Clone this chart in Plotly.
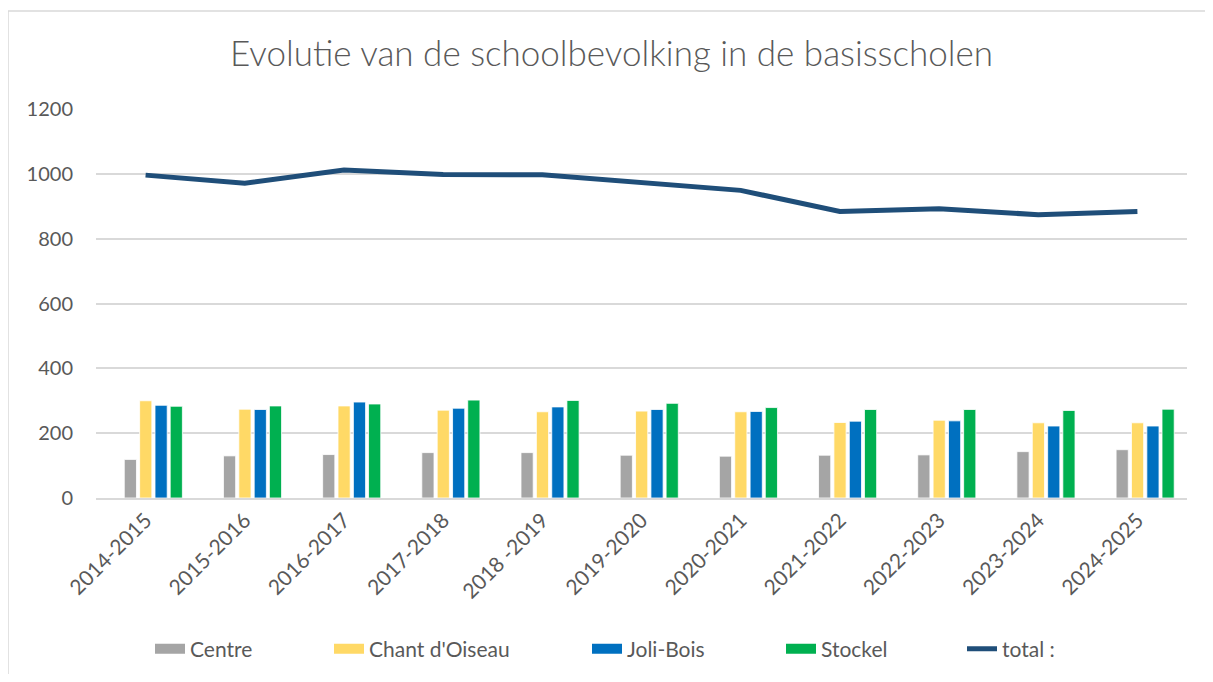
import plotly.graph_objects as go

years = ["2014-2015", "2015-2016", "2016-2017", "2017-2018", "2018 -2019", "2019-2020",
         "2020-2021", "2021-2022", "2022-2023", "2023-2024", "2024-2025"]
centre = [119, 130, 134, 140, 140, 132, 129, 132, 133, 143, 149]
chant = [300, 274, 284, 271, 266, 268, 266, 233, 240, 232, 232]
joli = [286, 273, 296, 277, 281, 273, 267, 237, 238, 222, 222]
stockel = [283, 284, 290, 302, 301, 292, 279, 273, 273, 270, 274]
total = [996, 971, 1012, 998, 997, 974, 949, 884, 892, 874, 884]

series_names = ["Centre", "Chant d'Oiseau", "Joli-Bois", "Stockel"]
series_vals = [centre, chant, joli, stockel]
colors = ["#A5A5A5", "#FFD966", "#0070C0", "#00B050"]
offsets = [-0.215, -0.060, 0.095, 0.248]

FONT = "Lato"
TXT = "#595959"
W, H = 1197, 666          # page body has an 8px margin
L, R, T, B = 88, 18, 101, 176
PW, PH = W - L - R, H - T - B

legend_ids = ["legend", "legend2", "legend3", "legend4", "legend5"]
legend_x = [142, 321, 579, 773, 954]   # left edge of each legend entry (px)

fig = go.Figure()
for name, vals, col, off in zip(series_names, series_vals, colors, offsets):
    fig.add_trace(go.Bar(x=years, y=vals, name=name, marker_color=col,
                         marker_line=dict(color="white", width=0.8),
                         offset=off, width=0.123, showlegend=False,
                         hoverinfo="x+y+name"))
# legend entries (thick line swatches)
for name, col, lg in zip(series_names, colors, legend_ids[:4]):
    fig.add_trace(go.Scatter(x=[None], y=[None], mode="lines", name=name,
                             line=dict(color=col, width=13), hoverinfo="skip",
                             legend=lg))
fig.add_trace(go.Scatter(x=years, y=total, mode="lines", name="total :",
                         line=dict(color="#1F4E79", width=5), legend=legend_ids[4]))

legends = {}
for lg, lx in zip(legend_ids, legend_x):
    legends[lg] = dict(orientation="h", x=lx / W, xanchor="left", xref="container",
                       y=1 - 641 / H, yanchor="middle", yref="container",
                       font=dict(family=FONT, size=21, color=TXT),
                       bgcolor="rgba(0,0,0,0)", borderwidth=0)

bx0 = (0 - L) / PW
by1 = (PH + T - 3) / PH
fig.update_layout(
    width=W, height=H,
    margin=dict(l=L, r=R, t=T, b=B),
    paper_bgcolor="white", plot_bgcolor="white",
    barmode="overlay",
    font=dict(family=FONT, color=TXT, size=21),
    title=dict(text="Evolutie van de schoolbevolking in de basisscholen",
               x=603.5 / W, xanchor="center", y=1 - 46 / H, yanchor="middle",
               font=dict(family=FONT, size=35, color=TXT, weight=300)),
    xaxis=dict(type="category", tickangle=-45, showgrid=False,
               showline=True, linecolor="#D9D9D9", linewidth=1.5,
               ticks="", tickfont=dict(size=21, color=TXT)),
    yaxis=dict(range=[0, 1200], dtick=200, showgrid=True, gridcolor="#D9D9D9",
               gridwidth=1.5, zeroline=False, showline=False, ticks="",
               ticklabelstandoff=22, tickfont=dict(size=20, color=TXT)),
    shapes=[
        dict(type="line", xref="paper", yref="paper", x0=bx0, x1=bx0, y0=-1, y1=by1,
             line=dict(color="#D9D9D9", width=1.5), layer="below"),
        dict(type="line", xref="paper", yref="paper", x0=bx0, x1=1.2, y0=by1, y1=by1,
             line=dict(color="#D9D9D9", width=1.5), layer="below"),
    ],
    **legends,
)

fig.write_html("out.html")
